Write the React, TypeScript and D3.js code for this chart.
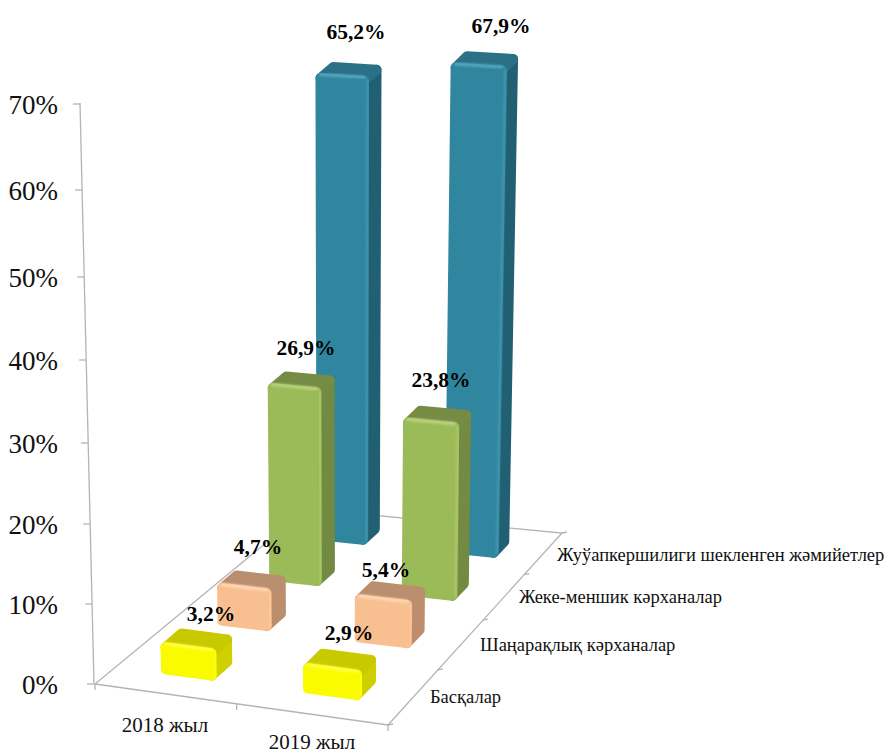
import React from "react";
import * as d3 from "d3";

const years = ["2018 жыл", "2019 жыл"];
const kinds = ["Басқалар", "Шаңарақлық кәрханалар", "Жеке-меншик кәрханалар", "Жуўапкершилиги шекленген жәмийетлер"];
const values2018 = [3.2, 4.7, 26.9, 65.2];
const values2019 = [2.9, 5.4, 23.8, 67.9];
const labels2018 = ["3,2%", "4,7%", "26,9%", "65,2%"];
const labels2019 = ["2,9%", "5,4%", "23,8%", "67,9%"];
const axisTicks = [0, 10, 20, 30, 40, 50, 60, 70];

const W = 890, H = 754;
const quad = [[95, 684], [388, 725], [562, 533], [307, 509]];
function makeFloor(q: number[][]) {
  const [[x0, y0], [x1, y1], [x2, y2], [x3, y3]] = q;
  const sx = x0 - x1 + x2 - x3, sy = y0 - y1 + y2 - y3;
  const dx1 = x1 - x2, dx2 = x3 - x2, dy1 = y1 - y2, dy2 = y3 - y2;
  const det = dx1 * dy2 - dx2 * dy1;
  const g = (sx * dy2 - dx2 * sy) / det, h = (dx1 * sy - sx * dy1) / det;
  const a = x1 - x0 + g * x1, b = x3 - x0 + h * x3, d = y1 - y0 + g * y1, e = y3 - y0 + h * y3;
  return (u: number, v: number): [number, number] => {
    const w = g * u + h * v + 1;
    return [(a * u + b * v + x0) / w, (d * u + e * v + y0) / w];
  };
}
const floor = makeFloor(quad);
const uScale = d3.scalePoint<string>().domain(years).range([0.25, 0.748]);
const vScale = d3.scalePoint<string>().domain(kinds).range([0.135, 0.885]);
const axisY = d3.scaleLinear().domain(axisTicks).range([684, 604, 524, 443, 360, 277, 190, 104]);
const barH = d3.scaleLinear().domain([0, 70]).range([0, 492]);
const VPX = 342, TILT = 0.0008;
const P = (u: number, v: number, val: number): [number, number] => {
  const [x, y] = floor(u, v);
  return [x + (x - VPX) * TILT * val, y - barH(val) * (1 + (x - VPX) * 0.00007)];
};
const poly = d3.line().curve(d3.curveLinearClosed);
const seg = d3.line();

const palette = [
  { front: "#fbfb00", side: "#d0d000", top: "#c9c900", hi: "#ffff4d" },
  { front: "#f8bf90", side: "#bd8e6c", top: "#b98f70", hi: "#ffd9b8" },
  { front: "#9bbb59", side: "#728a42", top: "#768c44", hi: "#bcd682" },
  { front: "#30869f", side: "#215f72", top: "#2a7086", hi: "#58a8c0" },
];
const HU = 0.082, HV = 0.034, R = 10;

function Bar({ u, v, val, c }: { u: number; v: number; val: number; c: typeof palette[0] }) {
  const fl = P(u - HU, v - HV, 0), fr = P(u + HU, v - HV, 0), br = P(u + HU, v + HV, 0);
  const flT = P(u - HU, v - HV, val), frT = P(u + HU, v - HV, val), brT = P(u + HU, v + HV, val), blT = P(u - HU, v + HV, val);
  const face = (pts: [number, number][], col: string) => (
    <path d={poly(pts) as string} fill={col} stroke={col} strokeWidth={R} strokeLinejoin="round" />
  );
  return (
    <g>
      {face([fr, br, brT, frT], c.side)}
      {face([flT, frT, brT, blT], c.top)}
      {face([fl, fr, frT, flT], c.front)}
      <path d={seg([[flT[0], flT[1] - 3.5], [frT[0], frT[1] - 3.5]]) as string} stroke={c.hi} strokeWidth={3} fill="none" strokeLinecap="round" filter="url(#soft)" />
      <path d={seg([[frT[0] + 3.5, frT[1]], [fr[0] + 3.5, fr[1]]]) as string} stroke={c.hi} strokeWidth={2} fill="none" strokeLinecap="round" filter="url(#soft)" opacity={0.6} />
    </g>
  );
}

const dataLabelPos: Record<string, [number, number]> = {
  "3,2%": [211, 621], "4,7%": [258, 554], "26,9%": [306, 355], "65,2%": [356, 39],
  "2,9%": [349, 640], "5,4%": [386, 577], "23,8%": [441, 387], "67,9%": [501, 33],
};
const yearLabelPos: [number, number][] = [[165, 732], [312, 749]];
const kindLabelPos: [number, number][] = [[430, 703], [480, 651], [519, 603], [557, 561]];
const GRID = "#b4b4b4";

export default function App() {
  const rows = kinds.map((k, i) => ({ k, i })).reverse();
  const tickLines: [number, number][][] = [
    [floor(0.5, 0), [floor(0.5, 0)[0], floor(0.5, 0)[1] + 6]],
    [floor(0, 0), [floor(0, 0)[0], floor(0, 0)[1] + 6]],
    [floor(1, 0), [floor(1, 0)[0], floor(1, 0)[1] + 6]],
    ...[0, 0.25, 0.5, 0.75, 1].map((v) => [floor(1, v), [floor(1, v)[0] + 5, floor(1, v)[1] - 1]] as [number, number][]),
  ];
  return (
    <svg width={W} height={H} style={{ position: "absolute", left: 0, top: 0, background: "#fff" }} fontFamily="'Liberation Serif', serif">
      <defs>
        <filter id="soft" x="-50%" y="-50%" width="200%" height="200%"><feGaussianBlur stdDeviation="0.9" /></filter>
      </defs>
      <g fill="none" stroke={GRID} strokeWidth={1.3}>
        <path d={poly(quad as [number, number][]) as string} />
        <path d={seg([[94, 684], [80, 103]]) as string} />
        {axisTicks.map((t) => {
          const y = axisY(t), x = 94 - (14 * (684 - y)) / 581;
          return <path key={t} d={seg([[x - 7, y], [x, y]]) as string} />;
        })}
        {tickLines.map((l, i) => <path key={i} d={seg(l) as string} />)}
      </g>
      {axisTicks.map((t) => (
        <text key={t} x={58} y={axisY(t) + 10} textAnchor="end" fontSize={27} fill="#111">{t}%</text>
      ))}
      {years.map((y, i) => (
        <text key={y} x={yearLabelPos[i][0]} y={yearLabelPos[i][1]} textAnchor="middle" fontSize={21} fill="#111">{y}</text>
      ))}
      {kinds.map((k, i) => (
        <text key={k} x={kindLabelPos[i][0]} y={kindLabelPos[i][1]} fontSize={18.5} fill="#111">{k}</text>
      ))}
      {rows.map(({ k, i }) => (
        <g key={k}>
          <Bar u={uScale(years[0])!} v={vScale(k)!} val={values2018[i]} c={palette[i]} />
          <Bar u={uScale(years[1])!} v={vScale(k)!} val={values2019[i]} c={palette[i]} />
        </g>
      ))}
      {[...labels2018, ...labels2019].map((l) => (
        <text key={l} x={dataLabelPos[l][0]} y={dataLabelPos[l][1]} textAnchor="middle" fontSize={21.5} fontWeight="bold" fill="#000">{l}</text>
      ))}
    </svg>
  );
}
